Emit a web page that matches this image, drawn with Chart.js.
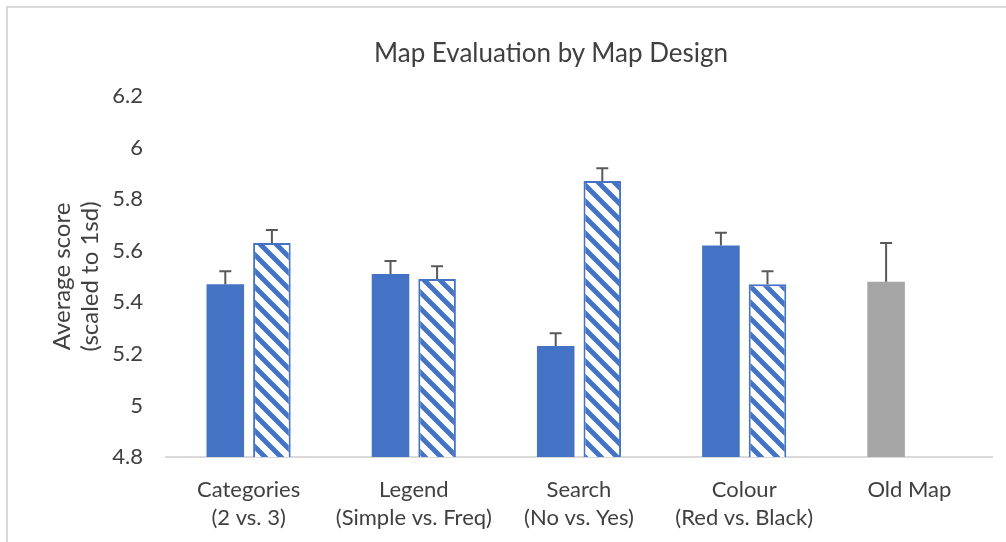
<!DOCTYPE html>
<html lang="en">
<head>
<meta charset="UTF-8">
<title>Map Evaluation by Map Design</title>
<script src="https://cdn.jsdelivr.net/npm/chart.js"></script>
<style>
  body { margin: 0; background: #fff; }
  #frame { position: absolute; left: 6px; top: 6px; width: 1100px; height: 700px;
           border-left: 2px solid #d9d9d9; border-top: 2px solid #d9d9d9; }
  #wrap { position: absolute; left: 0; top: 0; width: 1006px; height: 542px; }
  #chartTitle { position: absolute; left: 351px; width: 400px; top: 36px; text-align: center;
                font: 26px Lato, "Noto Sans", sans-serif; color: #404040; line-height: 32px; }
</style>
</head>
<body>
<div id="frame"></div>
<div id="wrap"><canvas id="mapChart" width="1006" height="542"></canvas></div>
<div id="chartTitle">Map Evaluation by Map Design</div>
<script>
// categories and values
const categories = [
  ["Categories", "(2 vs. 3)"],
  ["Legend", "(Simple vs. Freq)"],
  ["Search", "(No vs. Yes)"],
  ["Colour", "(Red vs. Black)"],
  "Old Map"
];
const firstMeans = [5.47, 5.51, 5.23, 5.62, 5.48];
const firstErrors = [0.05, 0.05, 0.05, 0.05, 0.15];
const secondMeans = [5.63, 5.49, 5.87, 5.47, null];
const secondErrors = [0.05, 0.05, 0.05, 0.05, null];
const firstColors = ['#4472c4', '#4472c4', '#4472c4', '#4472c4', '#a5a5a5'];

const textColor = '#404040';
const fontFamily = 'Lato, "Noto Sans", sans-serif';

// diagonal hatch, like Excel's wide downward diagonal
function makeHatch() {
  const c = document.createElement('canvas');
  c.width = 16; c.height = 16;
  const g = c.getContext('2d');
  g.fillStyle = '#fff';
  g.fillRect(0, 0, 16, 16);
  g.strokeStyle = '#4472c4';
  g.lineWidth = 5;
  g.beginPath();
  g.moveTo(-4, -4); g.lineTo(20, 20);
  g.moveTo(-4, 12); g.lineTo(4, 20);
  g.moveTo(12, -4); g.lineTo(20, 4);
  g.stroke();
  return g.createPattern(c, 'repeat');
}

// positive error bars only
const errorBars = {
  id: 'errorBars',
  afterDatasetsDraw(chart) {
    const ctx = chart.ctx;
    const yScale = chart.scales.y;
    ctx.save();
    ctx.strokeStyle = '#595959';
    ctx.lineWidth = 2;
    chart.data.datasets.forEach((ds, i) => {
      const meta = chart.getDatasetMeta(i);
      meta.data.forEach((bar, j) => {
        const v = ds.data[j];
        const e = ds.errors[j];
        if (v == null || e == null) return;
        const top = yScale.getPixelForValue(v + e);
        ctx.beginPath();
        ctx.moveTo(bar.x, bar.y);
        ctx.lineTo(bar.x, top);
        ctx.moveTo(bar.x - 6, top);
        ctx.lineTo(bar.x + 6, top);
        ctx.stroke();
      });
    });
    ctx.restore();
  }
};

const ctx = document.getElementById('mapChart').getContext('2d');
const mapChart = new Chart(ctx, {
  type: 'bar',
  data: {
    labels: categories,
    datasets: [{
      label: 'Option A',
      data: firstMeans,
      errors: firstErrors,
      backgroundColor: firstColors,
      borderWidth: 0
    }, {
      label: 'Option B',
      data: secondMeans,
      errors: secondErrors,
      backgroundColor: makeHatch(),
      borderColor: '#4472c4',
      borderWidth: 2
    }]
  },
  options: {
    responsive: false,
    animation: false,
    categoryPercentage: 0.564,
    barPercentage: 0.806,
    layout: { padding: { left: 0, right: 14, top: 96, bottom: 0 } },
    plugins: {
      legend: { display: false },
      tooltip: { enabled: false },
      title: { display: false }
    },
    scales: {
      x: {
        grid: { display: false, drawTicks: false },
        border: { display: true, color: '#d9d9d9', width: 2 },
        ticks: {
          color: textColor,
          font: { family: fontFamily, size: 22, lineHeight: 1.27 },
          padding: 19,
          maxRotation: 0,
          autoSkip: false
        },
        afterFit(scale) { scale.height = 85; }
      },
      y: {
        min: 4.8,
        max: 6.2,
        grid: { display: false, drawTicks: false },
        border: { display: false },
        ticks: {
          stepSize: 0.2,
          color: textColor,
          padding: 23,
          font: { family: fontFamily, size: 22 },
          callback: (v) => Math.round(v * 10) / 10
        },
        title: {
          display: true,
          text: ['Average score', '(scaled to 1sd)'],
          color: textColor,
          font: { family: fontFamily, size: 24, lineHeight: 1.17 },
          padding: { top: 48, bottom: 0 }
        },
        afterFit(scale) { scale.width = 166; }
      }
    }
  },
  plugins: [errorBars]
});
</script>
</body>
</html>
